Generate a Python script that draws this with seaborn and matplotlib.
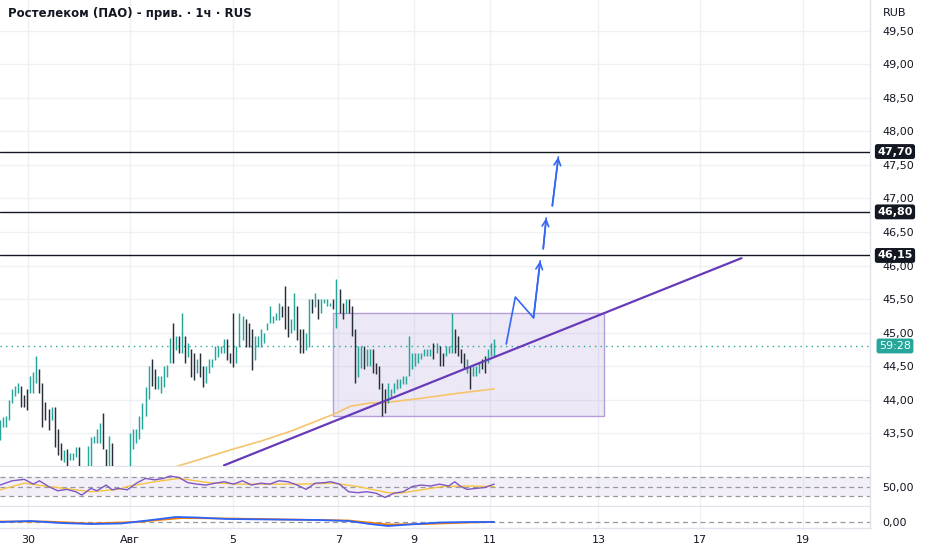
import seaborn as sns
import matplotlib.pyplot as plt
from matplotlib.patches import Rectangle
from matplotlib.transforms import blended_transform_factory

# --- candles (hourly bars), price in RUB ---
bar_low = [43.40, 43.59, 43.59, 43.69, 43.95, 44.05, 44.10, 43.89, 43.89, 43.84,
           44.10, 44.10, 44.25, 44.10, 43.59, 43.69, 43.55, 43.69, 43.29, 43.17,
           43.10, 43.07, 42.99, 43.10, 43.10, 43.14, 42.95, 42.80, 42.75, 42.87,
           42.95, 43.35, 43.35, 43.35, 43.26, 42.95, 42.95, 42.95, 42.80, 42.70,
           42.65, 42.70, 42.80, 42.95, 43.26, 43.35, 43.41, 43.56, 43.75, 44.01,
           44.20, 44.16, 44.16, 44.10, 44.19, 44.34, 44.55, 44.55, 44.74, 44.69,
           44.69, 44.55, 44.63, 44.34, 44.29, 44.40, 44.34, 44.19, 44.25, 44.40,
           44.49, 44.59, 44.63, 44.69, 44.69, 44.59, 44.55, 44.49, 44.55, 44.78,
           44.89, 44.78, 44.78, 44.44, 44.59, 44.78, 44.78, 44.84, 45.04, 45.14,
           45.14, 45.19, 45.19, 45.23, 45.05, 44.93, 44.99, 45.04, 44.89, 44.69,
           44.69, 44.74, 44.78, 45.29, 45.38, 45.20, 45.29, 45.44, 45.40, 45.40,
           45.35, 45.07, 45.29, 45.20, 45.29, 45.29, 44.95, 44.25, 44.34, 44.47,
           44.46, 44.50, 44.50, 44.40, 44.38, 44.16, 43.75, 43.80, 43.95, 44.02,
           44.10, 44.16, 44.17, 44.23, 44.23, 44.35, 44.46, 44.50, 44.55, 44.60,
           44.65, 44.65, 44.65, 44.60, 44.69, 44.50, 44.50, 44.65, 44.69, 44.69,
           44.69, 44.65, 44.55, 44.46, 44.40, 44.16, 44.35, 44.35, 44.40, 44.46,
           44.40, 44.55, 44.65, 44.65]
bar_high = [43.69, 43.74, 43.75, 43.99, 44.16, 44.20, 44.25, 44.20, 44.07, 44.16,
            44.35, 44.41, 44.65, 44.46, 44.25, 43.96, 43.86, 43.89, 43.89, 43.56,
            43.35, 43.25, 43.26, 43.20, 43.20, 43.29, 43.29, 42.98, 42.95, 43.31,
            43.44, 43.46, 43.56, 43.65, 43.80, 43.26, 43.46, 43.35, 42.98, 42.90,
            42.85, 42.92, 42.98, 43.50, 43.56, 43.56, 43.75, 43.95, 44.19, 44.50,
            44.60, 44.46, 44.35, 44.35, 44.50, 44.52, 44.92, 45.14, 44.95, 44.95,
            45.29, 44.95, 44.84, 44.75, 44.69, 44.60, 44.69, 44.50, 44.50, 44.60,
            44.60, 44.80, 44.80, 44.80, 44.90, 44.90, 44.69, 45.29, 44.80, 45.29,
            45.25, 45.20, 45.14, 45.05, 44.95, 44.95, 45.05, 44.99, 45.14, 45.40,
            45.25, 45.29, 45.44, 45.40, 45.69, 45.40, 45.20, 45.59, 45.40, 45.05,
            45.05, 44.99, 45.50, 45.50, 45.59, 45.50, 45.50, 45.50, 45.50, 45.44,
            45.50, 45.80, 45.65, 45.44, 45.50, 45.50, 45.40, 45.05, 44.80, 44.80,
            44.80, 44.75, 44.75, 44.75, 44.55, 44.50, 44.25, 44.16, 44.25, 44.16,
            44.25, 44.31, 44.31, 44.35, 44.35, 44.95, 44.69, 44.69, 44.69, 44.69,
            44.75, 44.75, 44.75, 44.84, 44.84, 44.80, 44.69, 44.80, 44.80, 45.29,
            45.05, 44.95, 44.75, 44.69, 44.60, 44.50, 44.50, 44.50, 44.55, 44.60,
            44.65, 44.75, 44.84, 44.90]
bar_up = [1, 1, 1, 1, 1, 1, 1, 0, 0, 0,
          1, 1, 1, 0, 0, 0, 0, 1, 0, 0,
          0, 1, 0, 1, 1, 1, 0, 0, 1, 1,
          1, 1, 1, 1, 0, 0, 1, 0, 0, 0,
          1, 1, 1, 1, 1, 1, 1, 1, 1, 1,
          0, 0, 1, 1, 1, 1, 1, 0, 1, 0,
          1, 0, 1, 0, 0, 1, 0, 0, 1, 1,
          1, 1, 1, 1, 1, 0, 0, 0, 1, 1,
          1, 0, 0, 0, 1, 1, 1, 1, 1, 1,
          1, 1, 1, 0, 0, 0, 1, 1, 0, 0,
          0, 1, 1, 0, 1, 0, 1, 1, 1, 1,
          0, 1, 0, 0, 1, 0, 0, 0, 1, 1,
          0, 1, 1, 0, 0, 0, 0, 0, 1, 1,
          1, 1, 1, 1, 1, 1, 1, 1, 1, 1,
          1, 1, 1, 0, 1, 0, 0, 1, 1, 1,
          0, 0, 0, 0, 1, 0, 1, 1, 1, 0,
          0, 1, 1, 1]

# moving average on price chart (read at a few bars)
ma_idx = [50, 58.7, 66, 76, 86, 96, 106, 111, 115.5, 122, 128, 139, 152, 163]
ma_val = [42.88, 43.01, 43.11, 43.25, 43.38, 43.53, 43.71, 43.80, 43.90, 43.95, 43.96, 44.02, 44.10, 44.16]

# RSI and its average
rsi_idx = [0, 4, 8, 11, 13, 16, 19, 22, 25, 27, 30, 32, 35, 37, 39, 42, 45, 48, 51, 54,
           56, 59, 62, 65, 68, 71, 74, 77, 80, 83, 86, 89, 92, 95, 98, 101, 104, 107, 109, 112,
           115, 118, 121, 124, 127, 130, 133, 136, 139, 142, 145, 148, 150, 152, 154, 157, 160, 163]
rsi_val = [53, 62, 65, 55, 62, 50, 41, 44, 39, 32, 46, 41, 53, 43, 46, 43, 57, 67, 64, 67,
           72, 69, 58, 55, 53, 57, 60, 55, 62, 53, 57, 55, 62, 60, 53, 44, 57, 58, 60, 55,
           39, 37, 39, 36, 27, 36, 39, 50, 53, 51, 55, 51, 60, 50, 44, 46, 48, 55]
rsi_ma_idx = [0, 8, 16, 30, 39, 42, 51, 59, 69, 79, 99, 110, 118, 128, 132, 138, 146, 154, 163]
rsi_ma_val = [43, 57, 50, 39, 44, 50, 60, 67, 58, 55, 55, 57, 50, 37, 36, 42, 50, 51, 50]

# MACD lines
macd_idx = [0, 10, 20, 30, 40, 50, 58, 65, 75, 90, 105, 115, 122, 128, 135, 145, 155, 163]
macd_val = [0.0, 0.02, -0.02, -0.04, -0.03, 0.04, 0.10, 0.09, 0.06, 0.05, 0.04, 0.02, -0.04, -0.08, -0.05, -0.01, 0.0, 0.0]
signal_idx = [0, 15, 30, 45, 60, 75, 95, 115, 128, 140, 155, 163]
signal_val = [0.01, 0.01, -0.03, 0.0, 0.08, 0.07, 0.05, 0.03, -0.05, -0.04, -0.01, 0.0]

# drawings
levels = [47.70, 46.80, 46.15]
last_price = 44.80
countdown = "59:28"
trend_x = [73.9, 244.6]
trend_y = [43.02, 46.11]
box_x = [109.9, 199.3]
box_y = [43.75, 45.29]
path1_x = [167, 170, 176, 178.2]
path1_y = [44.83, 45.53, 45.22, 46.07]
path2_x = [179.2, 180.2]
path2_y = [46.25, 46.71]
path3_x = [182.2, 184.2]
path3_y = [46.89, 47.62]

date_pos = [9.2, 42.9, 76.9, 111.6, 136.6, 161.7, 197.4, 231.0, 265.0]
date_lab = ["30", "Авг", "5", "7", "9", "11", "13", "17", "19"]
price_ticks = [43.5, 44.0, 44.5, 45.0, 45.5, 46.0, 46.5, 47.0, 47.5, 48.0, 48.5, 49.0, 49.5]

sns.set_theme(style="white")
plt.rcParams['font.family'] = ['DejaVu Sans']

TXT = '#131722'
GRID = '#eef0f4'
SEP = '#e0e3eb'
UP = '#26a69a'
DOWN = '#2a2e39'

W, H = 932, 550
fig = plt.figure(figsize=(W / 100, H / 100), dpi=100)


def rect(x0, y0, x1, y1):
    return [x0 / W, 1 - y1 / H, (x1 - x0) / W, (y1 - y0) / H]


ax = fig.add_axes(rect(0, 0, 870, 466))
ax_rsi = fig.add_axes(rect(0, 467, 870, 506), sharex=ax)
ax_macd = fig.add_axes(rect(0, 507, 870, 528), sharex=ax)

for a in (ax, ax_rsi, ax_macd):
    a.set_facecolor('white')
    for s in ('top', 'left'):
        a.spines[s].set_visible(False)
    for s in ('right', 'bottom'):
        a.spines[s].set_color(SEP)
        a.spines[s].set_linewidth(1)
    a.yaxis.tick_right()
    a.tick_params(axis='y', length=0, pad=9, labelsize=8, labelcolor=TXT)
    a.set_xticks(date_pos)
    for p in date_pos:
        a.axvline(p, color=GRID, lw=1, zorder=0)

ax.set_xlim(0, 287)
ax.set_ylim(43.01, 49.96)
ax.set_yticks(price_ticks)
ax.set_yticklabels([f"{v:.2f}".replace('.', ',') for v in price_ticks])
for v in price_ticks:
    ax.axhline(v, color=GRID, lw=1, zorder=0)
ax.tick_params(axis='x', labelbottom=False, length=0)
ax_rsi.tick_params(axis='x', labelbottom=False, length=0)

# candles
idx = list(range(len(bar_low)))
colors = [UP if u else DOWN for u in bar_up]
ax.vlines(idx, bar_low, bar_high, colors=colors, lw=1.05, zorder=3)

# moving average
sns.lineplot(x=ma_idx, y=ma_val, ax=ax, color='#f7c46c', lw=1.2, zorder=2)

# range box
ax.add_patch(Rectangle((box_x[0], box_y[0]), box_x[1] - box_x[0], box_y[1] - box_y[0],
                       facecolor='#9575cd', alpha=0.16, edgecolor='none', zorder=1))
ax.add_patch(Rectangle((box_x[0], box_y[0]), box_x[1] - box_x[0], box_y[1] - box_y[0],
                       facecolor='none', edgecolor='#b39ddb', lw=1, zorder=1))

# trend line
sns.lineplot(x=trend_x, y=trend_y, ax=ax, color='#673ab7', lw=1.6, zorder=4)

# levels
for lv in levels:
    ax.axhline(lv, color='#131722', lw=1, zorder=4)

ax.axhline(last_price, color=UP, lw=1, ls=(0, (1, 3)), zorder=2)

# projected path
BLUE = '#3468f0'
for xs, ys in ((path1_x, path1_y), (path2_x, path2_y), (path3_x, path3_y)):
    ax.plot(xs, ys, color=BLUE, lw=1.2, zorder=5)
    ax.annotate('', xy=(xs[-1], ys[-1]), xytext=(xs[-2], ys[-2]),
                arrowprops=dict(arrowstyle='->', color=BLUE, lw=1.2, mutation_scale=12,
                                shrinkA=0, shrinkB=0), zorder=5)

# right-side value labels
tr = blended_transform_factory(ax.transAxes, ax.transData)
for lv in levels:
    ax.text(1.0287, lv, f"{lv:.2f}".replace('.', ','), transform=tr, ha='center', va='center',
            fontsize=8, color='white', fontweight='bold', clip_on=False, zorder=10,
            bbox=dict(boxstyle='round,pad=0.22', fc='#131722', ec='none'))
ax.text(1.0287, last_price, countdown, transform=tr, ha='center', va='center',
        fontsize=8, color='white', clip_on=False, zorder=10,
        bbox=dict(boxstyle='round,pad=0.22', fc=UP, ec='none'))

ax.text(8 / 870, 1 - 13 / 466, "Ростелеком (ПАО) - прив. · 1ч · RUS", transform=ax.transAxes,
        fontsize=8.5, fontweight='bold', color=TXT, va='center', ha='left')
fig.text(895 / W, 1 - 13 / H, "RUB", fontsize=8, color=TXT, ha='center', va='center')

# RSI pane
ax_rsi.set_ylim(9, 91)
ax_rsi.axhspan(30, 70, color='#7e57c2', alpha=0.09, lw=0, zorder=0)
for lv in (70, 50, 30):
    ax_rsi.axhline(lv, color='#9598a1', lw=0.9, ls=(0, (4, 3)), zorder=1)
sns.lineplot(x=rsi_ma_idx, y=rsi_ma_val, ax=ax_rsi, color='#f5c542', lw=1, zorder=2)
sns.lineplot(x=rsi_idx, y=rsi_val, ax=ax_rsi, color='#7e57c2', lw=1, zorder=3)
ax_rsi.set_yticks([50])
ax_rsi.set_yticklabels(["50,00"])

# MACD pane
ax_macd.set_ylim(-0.12, 0.30)
ax_macd.axhline(0, color='#9598a1', lw=0.9, ls=(0, (4, 3)), zorder=1)
sns.lineplot(x=signal_idx, y=signal_val, ax=ax_macd, color='#f57c00', lw=1.3, zorder=2)
sns.lineplot(x=macd_idx, y=macd_val, ax=ax_macd, color='#2962ff', lw=1.3, zorder=3)
ax_macd.set_yticks([0])
ax_macd.set_yticklabels(["0,00"])
ax_macd.set_xticklabels(date_lab)
ax_macd.tick_params(axis='x', length=0, pad=5, labelsize=8, labelcolor=TXT)

for a in (ax, ax_rsi, ax_macd):
    a.set_xlabel('')
    a.set_ylabel('')
    a.set_xlim(0, 287)

fig.savefig('out.png', dpi=100)
